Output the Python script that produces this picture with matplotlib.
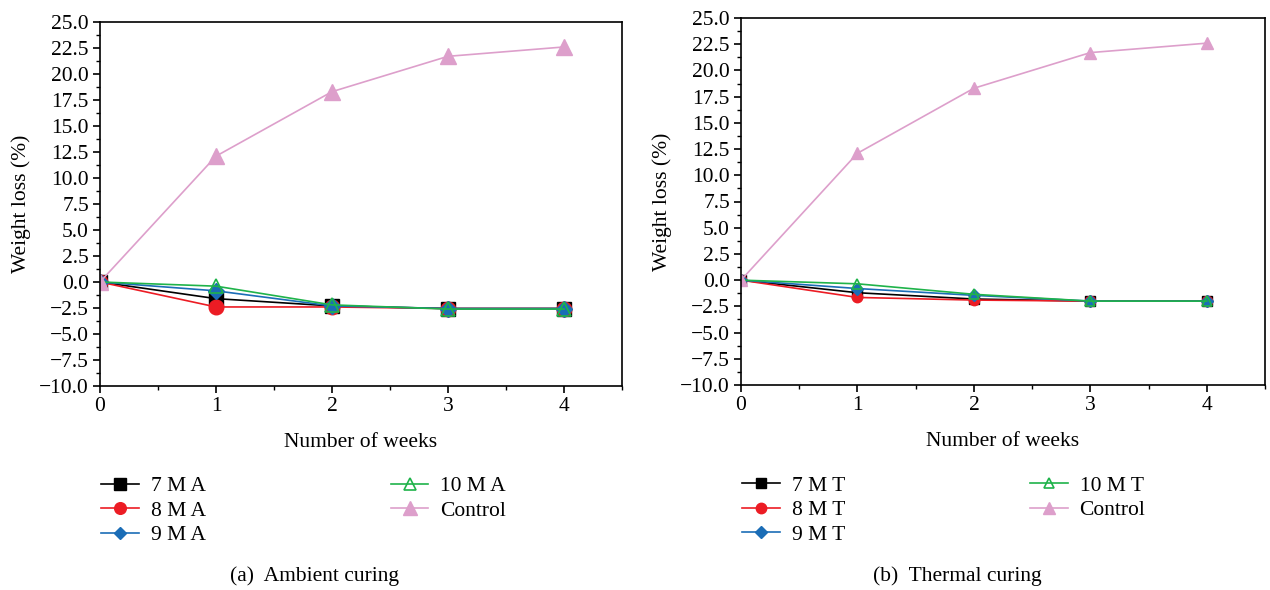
import numpy as np
import matplotlib.pyplot as plt
from matplotlib.ticker import MultipleLocator

plt.rcParams['font.family'] = ['Liberation Serif', 'DejaVu Serif']
plt.rcParams['font.size'] = 15.5

weeks = [0, 1, 2, 3, 4]

# ambient curing
amb_7 = [0, -1.6, -2.3, -2.55, -2.55]
amb_8 = [0, -2.4, -2.4, -2.55, -2.55]
amb_9 = [0, -0.85, -2.3, -2.55, -2.55]
amb_10 = [0, -0.4, -2.2, -2.6, -2.6]
amb_ctrl = [0, 12.1, 18.3, 21.7, 22.6]

# thermal curing
th_7 = [0, -1.2, -1.8, -2.0, -2.0]
th_8 = [0, -1.65, -1.9, -2.0, -2.0]
th_9 = [0, -0.8, -1.45, -2.0, -2.0]
th_10 = [0, -0.35, -1.35, -2.0, -2.0]
th_ctrl = [0, 12.1, 18.3, 21.7, 22.6]

black = '#000000'
red = '#ec1c24'
blue = '#1b6db6'
green = '#1fb34a'
pink = '#dd9fcb'

fig = plt.figure(figsize=(12.7, 5.9), dpi=100)
ax1 = fig.add_axes([100/1270, 1-386/590, 522/1270, 364/590])
ax2 = fig.add_axes([741/1270, 1-385/590, 524/1270, 367/590])


def draw(ax, data, suffix, ms, mscale):
    s7, s8, s9, s10, sc = data
    ax.plot(weeks, s7, color=black, marker='s', ms=ms, lw=1.2, label='7 M ' + suffix)
    ax.plot(weeks, s8, color=red, marker='o', ms=ms, lw=1.2, label='8 M ' + suffix)
    ax.plot(weeks, s9, color=blue, marker='D', ms=ms*0.75, lw=1.2, label='9 M ' + suffix)
    ax.plot(weeks, s10, color=green, marker='^', ms=ms, lw=1.2, mfc='none', mew=1.2,
            label='10 M ' + suffix)
    ax.plot(weeks, sc, color=pink, marker='^', ms=ms*1.15, lw=1.2, label='Control')
    ax.set_xlim(0, 4.5)
    ax.set_ylim(-10, 25)
    ax.xaxis.set_major_locator(MultipleLocator(1))
    ax.xaxis.set_minor_locator(MultipleLocator(0.5))
    ax.yaxis.set_major_locator(MultipleLocator(2.5))
    ax.yaxis.set_minor_locator(MultipleLocator(1.25))
    ax.yaxis.set_major_formatter(plt.FuncFormatter(lambda v, p: f'{v:.1f}'.replace('-', '\u2212')))
    ax.tick_params(which='major', length=5, width=1.2, direction='out', pad=3)
    ax.tick_params(which='minor', length=3, width=1, direction='out')
    ax.tick_params(axis='x', which='both', top=False)
    ax.tick_params(axis='y', which='both', right=False)
    for sp in ax.spines.values():
        sp.set_linewidth(1.2)
    ax.set_xlabel('Number of weeks', labelpad=12)
    ax.set_ylabel('Weight loss (%)', labelpad=6)
    leg = ax.legend(loc='upper left', bbox_to_anchor=(-0.035, -0.195), ncol=2,
                    frameon=False, handlelength=1.75, handletextpad=0.55,
                    columnspacing=8.6, labelspacing=0.2, markerscale=mscale)
    return leg


draw(ax1, [amb_7, amb_8, amb_9, amb_10, amb_ctrl], 'A', 10.5, 0.8)
draw(ax2, [th_7, th_8, th_9, th_10, th_ctrl], 'T', 7.5, 1.0)

fig.text(315/1270, 1-576/590, '(a)  Ambient curing', ha='center', va='center')
fig.text(957/1270, 1-576/590, '(b)  Thermal curing', ha='center', va='center')

fig.savefig('out.png', dpi=100)
